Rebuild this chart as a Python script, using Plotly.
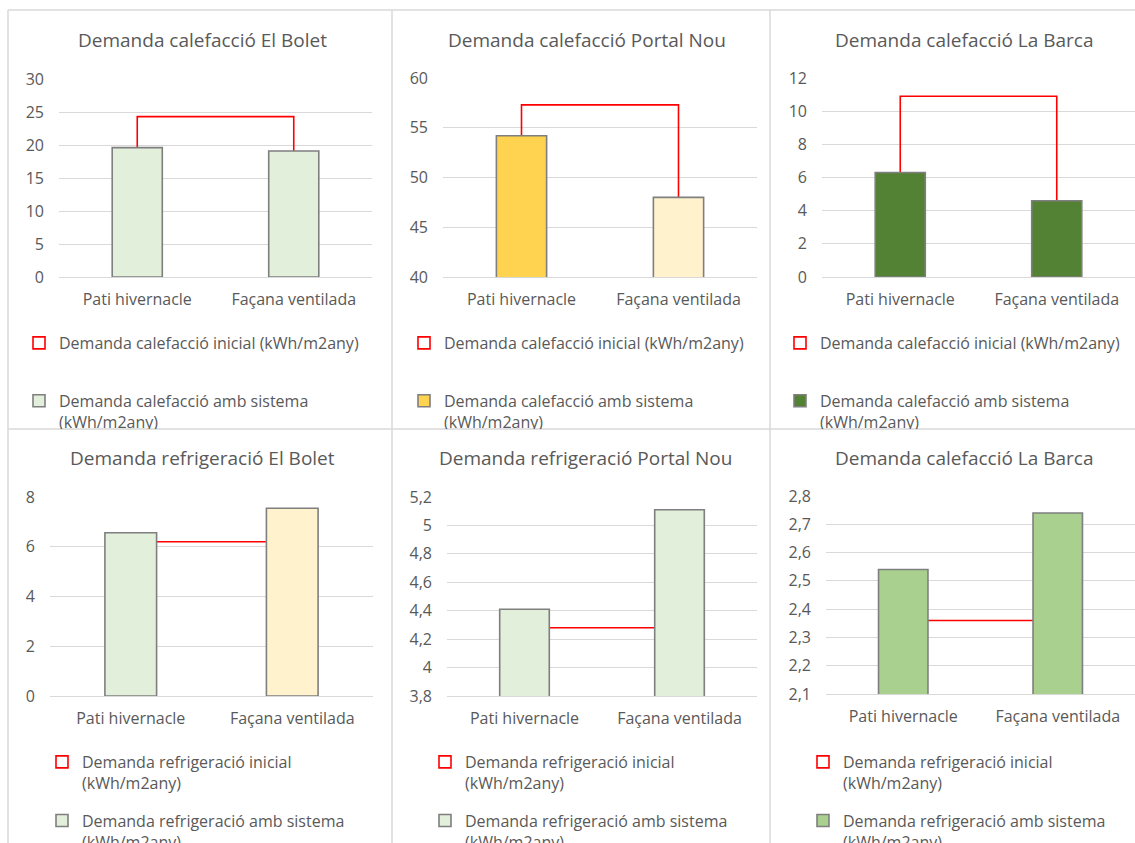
import plotly.graph_objects as go

W, H = 1135, 843

categories = ["Pati hivernacle", "Façana ventilada"]

titles = [
    "Demanda calefacció El Bolet",
    "Demanda calefacció Portal Nou",
    "Demanda calefacció La Barca",
    "Demanda refrigeració El Bolet",
    "Demanda refrigeració Portal Nou",
    "Demanda calefacció La Barca",
]
initial_values = [24.3, 57.3, 10.9, 6.2, 4.28, 2.36]
system_values = [
    [19.6, 19.1],
    [54.2, 48.0],
    [6.3, 4.6],
    [6.56, 7.55],
    [4.41, 5.11],
    [2.54, 2.74],
]
bar_colors = [
    ["#E2EFDA", "#E2EFDA"],
    ["#FFD34F", "#FFF2CC"],
    ["#548235", "#548235"],
    ["#E2EFDA", "#FFF2CC"],
    ["#E2EFDA", "#E2EFDA"],
    ["#A9D08E", "#A9D08E"],
]
y_ranges = [[0, 30], [40, 60], [0, 12], [0, 8], [3.8, 5.2], [2.1, 2.8]]
y_dticks = [5, 5, 2, 2, 0.2, 0.1]
initial_names = ["Demanda calefacció inicial (kWh/m2any)"] * 3 + \
                ["Demanda refrigeració inicial<br>(kWh/m2any)"] * 3
system_names = ["Demanda calefacció amb sistema<br>(kWh/m2any)"] * 3 + \
               ["Demanda refrigeració amb sistema<br>(kWh/m2any)"] * 3

# layout geometry (pixels)
plot_boxes = [(59, 372, 79, 277), (443, 757, 78, 277), (822, 1135, 78, 277),
              (50, 373, 497, 696), (447, 757, 497, 696), (826, 1135, 496, 694)]
title_pos = [(202, 40), (587, 40), (964, 40), (202, 458), (585, 458), (964, 458)]
legend_pos = [(49, 340), (434, 340), (810, 340), (72, 759), (455, 759), (833, 759)]
panel_bottoms = [429, 429, 429, 843, 843, 843]

TXT = "#595959"
GRID = "#D9D9D9"
FONT = "Open Sans"


def px(x):
    return x / W


def py(y):
    return 1 - y / H


fig = go.Figure()
layout = dict(
    width=W, height=H, margin=dict(l=0, r=0, t=0, b=0, autoexpand=False),
    paper_bgcolor="white", plot_bgcolor="white",
    barmode="overlay", separators=",.",
    font=dict(family=FONT, color=TXT, size=16),
    annotations=[], shapes=[],
)

for i in range(6):
    n = i + 1
    xa = "x" if n == 1 else f"x{n}"
    ya = "y" if n == 1 else f"y{n}"
    lg = "legend" if n == 1 else f"legend{n}"
    lo, hi = y_ranges[i]
    # initial demand outline (drawn first, behind); its base sits below the axis floor
    fig.add_trace(go.Bar(
        x=[categories[0]], y=[initial_values[i] - (lo - y_dticks[i])],
        base=[lo - y_dticks[i]], width=[1.0], offset=0,
        marker=dict(color="rgba(0,0,0,0)", line=dict(color="#FF0000", width=1.6)),
        name=initial_names[i], xaxis=xa, yaxis=ya, legend=lg,
        legendgroup=f"a{n}", hoverinfo="skip",
    ))
    fig.add_trace(go.Bar(
        x=categories, y=system_values[i], width=0.32,
        marker=dict(color=bar_colors[i], line=dict(color="#7F7F7F", width=1.6)),
        name=system_names[i], xaxis=xa, yaxis=ya, legend=lg,
        legendgroup=f"b{n}",
    ))
    x0, x1, y0, y1 = plot_boxes[i]
    sfx = "" if n == 1 else str(n)
    layout[f"xaxis{sfx}"] = dict(
        domain=[px(x0), px(x1)], anchor=ya, type="category",
        categoryorder="array", categoryarray=categories,
        range=[-0.5, 1.5], showgrid=False, showline=True, linecolor=GRID, linewidth=1,
        ticks="", tickfont=dict(family=FONT, size=16, color=TXT), ticklabelstandoff=8,
        fixedrange=True,
    )
    layout[f"yaxis{sfx}"] = dict(
        domain=[py(y1), py(y0)], anchor=xa, range=[lo, hi],
        dtick=y_dticks[i], tick0=lo,
        showgrid=True, gridcolor=GRID, gridwidth=1, zeroline=False, showline=False,
        ticks="", tickfont=dict(family=FONT, size=16, color=TXT), ticklabelstandoff=14,
        fixedrange=True,
    )
    tx, ty = title_pos[i]
    layout["annotations"].append(dict(
        text=titles[i], x=px(tx), y=py(ty), xref="paper", yref="paper",
        xanchor="center", yanchor="middle", showarrow=False,
        font=dict(family=FONT, size=19, color=TXT),
    ))
    lx, ly = legend_pos[i]
    top = ly - 14
    leg = dict(
        x=px(lx - 30), y=py(top), xanchor="left", yanchor="top",
        bgcolor="rgba(0,0,0,0)", borderwidth=0,
        font=dict(family=FONT, size=16, color=TXT),
        traceorder="grouped", tracegroupgap=34 if i < 3 else 14,
        valign="top", itemclick=False, itemdoubleclick=False,
        maxheight=panel_bottoms[i] - top,
    )
    layout[lg] = leg

# panel borders
for (a, b, c, d) in [(8, 10, 1135, 10), (8, 10, 8, 843), (392, 10, 392, 843),
                     (770, 10, 770, 843), (8, 429, 1135, 429)]:
    layout["shapes"].append(dict(
        type="line", xref="paper", yref="paper",
        x0=px(a), y0=py(b), x1=px(c), y1=py(d),
        line=dict(color=GRID, width=1.5), layer="below",
    ))

fig.update_layout(**layout)
fig.write_html("out.html", config={"staticPlot": True})
